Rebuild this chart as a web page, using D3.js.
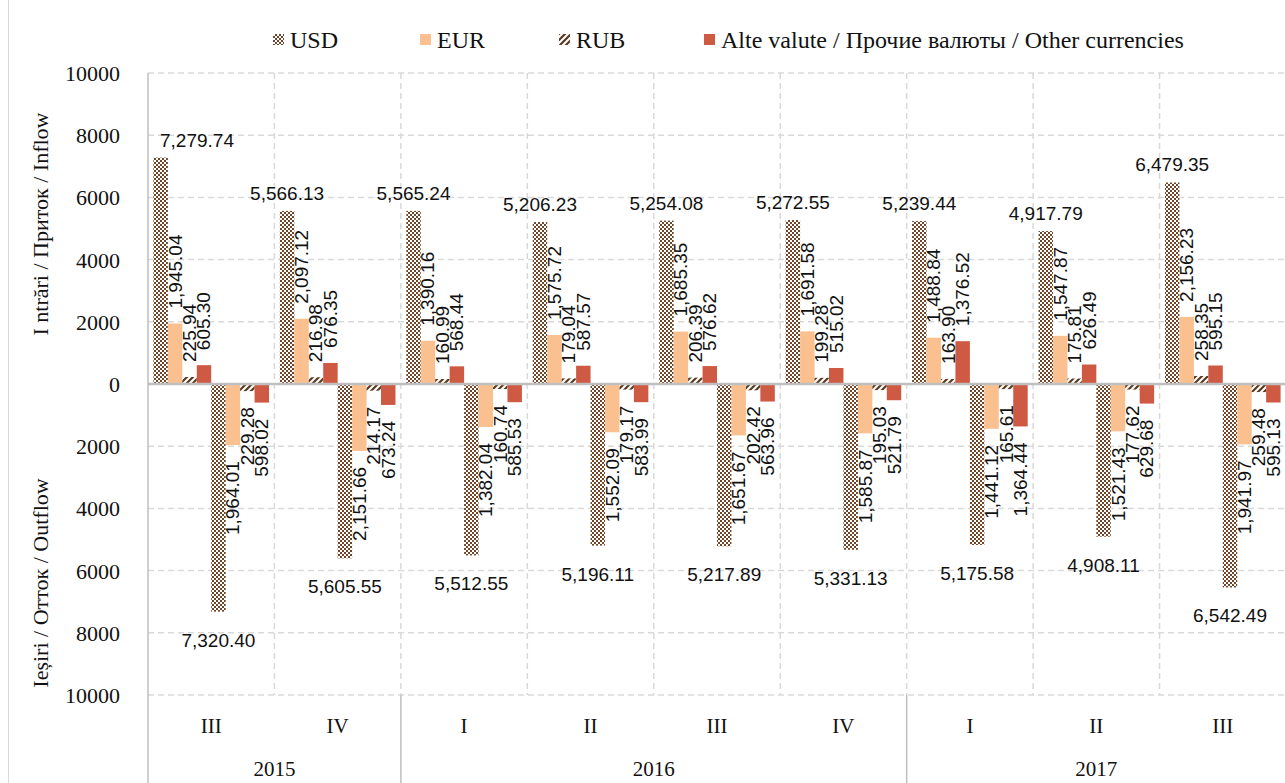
<!DOCTYPE html>
<html>
<head>
<meta charset="utf-8">
<script src="https://cdn.jsdelivr.net/npm/d3@7/dist/d3.min.js"></script>
<style>
    body { margin: 0; background: #fff; }
    .tick-label, .axis-title, .legend-label, .cat-label { font-family: "Liberation Serif", "Times New Roman", serif; fill: #111; }
    .data-label { font-family: "Liberation Sans", Arial, sans-serif; font-size: 19px; fill: #111; }
</style>
</head>
<body>
<div id="chart"></div>
<script>
// Category axis: quarters and the year each one belongs to
const quarters = ["III", "IV", "I", "II", "III", "IV", "I", "II", "III"];
const quarterYears = ["2015", "2015", "2016", "2016", "2016", "2016", "2017", "2017", "2017"];

// Inflow by currency
const inflowUSD = [7279.74, 5566.13, 5565.24, 5206.23, 5254.08, 5272.55, 5239.44, 4917.79, 6479.35];
const inflowEUR = [1945.04, 2097.12, 1390.16, 1575.72, 1685.35, 1691.58, 1488.84, 1547.87, 2156.23];
const inflowRUB = [225.94, 216.98, 160.99, 179.04, 206.39, 199.28, 163.90, 175.81, 258.35];
const inflowOther = [605.30, 676.35, 568.44, 587.57, 576.62, 515.02, 1376.52, 626.49, 595.15];

// Outflow by currency
const outflowUSD = [7320.40, 5605.55, 5512.55, 5196.11, 5217.89, 5331.13, 5175.58, 4908.11, 6542.49];
const outflowEUR = [1964.01, 2151.66, 1382.04, 1552.09, 1651.67, 1585.87, 1441.12, 1521.43, 1941.97];
const outflowRUB = [229.28, 214.17, 160.74, 179.17, 202.42, 195.03, 165.61, 177.62, 259.48];
const outflowOther = [598.02, 673.24, 585.53, 583.99, 563.96, 521.79, 1364.44, 629.68, 595.13];

const legendLabels = ["USD", "EUR", "RUB", "Alte valute / Прочие валюты / Other currencies"];
const yTickValues = [10000, 8000, 6000, 4000, 2000, 0, -2000, -4000, -6000, -8000, -10000];
const inflowTitle = "I ntrări / Приток / Inflow";
const outflowTitle = "Ieșiri / Отток / Outflow";

// Layout
const width = 1285, height = 783;
const plot = { left: 148, right: 1286, top: 73, bottom: 695 };

const svg = d3.select("#chart")
    .append("svg")
    .attr("width", width)
    .attr("height", height);

// Fill patterns for USD (fine checker) and RUB (diagonal stripes)
const defs = svg.append("defs");
const usd = defs.append("pattern")
    .attr("id", "usd")
    .attr("patternUnits", "userSpaceOnUse")
    .attr("width", 4).attr("height", 4);
usd.append("rect").attr("width", 4).attr("height", 4).attr("fill", "#fff");
usd.append("rect").attr("width", 2).attr("height", 2).attr("fill", "#6f4628");
usd.append("rect").attr("x", 2).attr("y", 2).attr("width", 2).attr("height", 2).attr("fill", "#6f4628");

const rub = defs.append("pattern")
    .attr("id", "rub")
    .attr("patternUnits", "userSpaceOnUse")
    .attr("width", 6).attr("height", 6);
rub.append("rect").attr("width", 6).attr("height", 6).attr("fill", "#fff");
rub.append("path")
    .attr("d", "M0,6 L6,0 M-1.5,1.5 L1.5,-1.5 M4.5,7.5 L7.5,4.5")
    .attr("stroke", "#5a3a1e")
    .attr("stroke-width", 2.2);

const currencyFills = ["url(#usd)", "#fac090", "url(#rub)", "#cf5a43"];

// Scales
const y = d3.scaleLinear()
    .domain([-10000, 10000])
    .range([plot.bottom, plot.top]);

const x = d3.scaleBand()
    .domain(d3.range(quarters.length))
    .range([plot.left, plot.right]);

const series = [
    { values: inflowUSD, sign: 1, cur: 0 },
    { values: inflowEUR, sign: 1, cur: 1 },
    { values: inflowRUB, sign: 1, cur: 2 },
    { values: inflowOther, sign: 1, cur: 3 },
    { values: outflowUSD, sign: -1, cur: 0 },
    { values: outflowEUR, sign: -1, cur: 1 },
    { values: outflowRUB, sign: -1, cur: 2 },
    { values: outflowOther, sign: -1, cur: 3 }
];

const xInner = d3.scaleBand()
    .domain(d3.range(series.length))
    .range([0, x.bandwidth()])
    .paddingInner(0)
    .paddingOuter(0.375);

// Horizontal dashed gridlines
svg.append("g")
    .selectAll("line")
    .data(yTickValues.filter(d => d !== 0))
    .enter()
    .append("line")
    .attr("x1", plot.left)
    .attr("x2", plot.right)
    .attr("y1", d => y(d))
    .attr("y2", d => y(d))
    .attr("stroke", "#d9d9d9")
    .attr("stroke-width", 1.5)
    .attr("stroke-dasharray", "6,4");

// Vertical dashed gridlines at category boundaries
svg.append("g")
    .selectAll("line")
    .data(d3.range(1, quarters.length + 1))
    .enter()
    .append("line")
    .attr("x1", d => plot.left + d * x.bandwidth())
    .attr("x2", d => plot.left + d * x.bandwidth())
    .attr("y1", plot.top)
    .attr("y2", plot.bottom)
    .attr("stroke", "#d9d9d9")
    .attr("stroke-width", 1.5)
    .attr("stroke-dasharray", "6,4");

// Bars
const barData = [];
series.forEach((s, si) => {
    s.values.forEach((v, ci) => {
        barData.push({ si, ci, v, sign: s.sign, cur: s.cur });
    });
});

svg.append("g")
    .selectAll("rect")
    .data(barData)
    .enter()
    .append("rect")
    .attr("x", d => x(d.ci) + xInner(d.si))
    .attr("width", xInner.bandwidth())
    .attr("y", d => Math.min(y(0), y(d.sign * d.v)))
    .attr("height", d => Math.abs(y(d.sign * d.v) - y(0)))
    .attr("fill", d => currencyFills[d.cur]);

// Zero line and left axis line
svg.append("line")
    .attr("x1", plot.left).attr("x2", plot.right)
    .attr("y1", y(0)).attr("y2", y(0))
    .attr("stroke", "#bfbfbf")
    .attr("stroke-width", 2.5);

svg.append("line")
    .attr("x1", plot.left).attr("x2", plot.left)
    .attr("y1", plot.top).attr("y2", height)
    .attr("stroke", "#bfbfbf")
    .attr("stroke-width", 1.5);

// Chart frame edge on the left
svg.append("line")
    .attr("x1", 8.5).attr("x2", 8.5)
    .attr("y1", 0).attr("y2", height)
    .attr("stroke", "#d9d9d9")
    .attr("stroke-width", 1);

// Data labels
const fmt = d3.format(",.2f");
const labels = svg.append("g");

barData.forEach(d => {
    const cx = x(d.ci) + xInner(d.si) + xInner.bandwidth() / 2;
    const end = y(d.sign * d.v);
    if (d.cur === 0) {
        // USD labels are horizontal, above / below the bar
        const t = labels.append("text")
            .attr("class", "data-label")
            .attr("text-anchor", "middle")
            .attr("x", cx)
            .attr("y", d.sign > 0 ? end - 11 : end + 35)
            .text(fmt(d.v));
        const w = t.node().getComputedTextLength();
        if (cx - w / 2 < plot.left + 12) t.attr("x", plot.left + 12 + w / 2);
    } else {
        labels.append("text")
            .attr("class", "data-label")
            .attr("text-anchor", d.sign > 0 ? "start" : "end")
            .attr("dominant-baseline", "central")
            .attr("transform", `translate(${cx},${d.sign > 0 ? end - 15 : end + 16}) rotate(-90)`)
            .text(fmt(d.v));
    }
});

// Y axis tick labels (absolute values on both sides)
const yAxis = d3.axisLeft(y)
    .tickValues(yTickValues)
    .tickFormat(d => Math.abs(d))
    .tickSize(0)
    .tickPadding(0);

const yAxisG = svg.append("g")
    .attr("transform", `translate(120,0)`)
    .call(yAxis);
yAxisG.select(".domain").remove();
yAxisG.selectAll("text")
    .attr("class", "tick-label")
    .attr("font-size", 22)
    .attr("dy", "0.34em")
    .style("font-family", "Liberation Serif, serif")
    .style("fill", "#111");

// Axis titles
svg.append("text")
    .attr("class", "axis-title")
    .attr("font-size", 22)
    .attr("text-anchor", "middle")
    .attr("transform", "translate(48,224) rotate(-90)")
    .text(inflowTitle);

svg.append("text")
    .attr("class", "axis-title")
    .attr("font-size", 22)
    .attr("text-anchor", "middle")
    .attr("transform", "translate(48,583) rotate(-90)")
    .text(outflowTitle);

// Category axis: quarter row
svg.append("g")
    .selectAll("text")
    .data(quarters)
    .enter()
    .append("text")
    .attr("class", "cat-label")
    .attr("font-size", 21)
    .attr("text-anchor", "middle")
    .attr("x", (d, i) => x(i) + x.bandwidth() / 2)
    .attr("y", 733)
    .text(d => d);

// Year row with separators
const years = Array.from(d3.group(quarterYears.map((yr, i) => ({ yr, i })), d => d.yr),
    ([yr, items]) => ({ yr, first: items[0].i, last: items[items.length - 1].i }));

svg.append("g")
    .selectAll("text")
    .data(years)
    .enter()
    .append("text")
    .attr("class", "cat-label")
    .attr("font-size", 21)
    .attr("text-anchor", "middle")
    .attr("x", d => (x(d.first) + x(d.last) + x.bandwidth()) / 2)
    .attr("y", 776)
    .text(d => d.yr);

svg.append("g")
    .selectAll("line")
    .data(years.slice(1))
    .enter()
    .append("line")
    .attr("x1", d => x(d.first))
    .attr("x2", d => x(d.first))
    .attr("y1", plot.bottom)
    .attr("y2", height)
    .attr("stroke", "#bfbfbf")
    .attr("stroke-width", 1.5);

// Legend
const legendX = [273, 420, 559, 704];
const legend = svg.append("g")
    .selectAll("g")
    .data(legendLabels)
    .enter()
    .append("g")
    .attr("transform", (d, i) => `translate(${legendX[i]},40)`);

legend.append("rect")
    .attr("x", 0)
    .attr("y", -6)
    .attr("width", 11)
    .attr("height", 11)
    .attr("fill", (d, i) => currencyFills[i]);

legend.append("text")
    .attr("class", "legend-label")
    .attr("font-size", 24)
    .attr("x", 17)
    .attr("y", 0)
    .attr("dy", "0.35em")
    .text(d => d);
</script>
</body>
</html>
